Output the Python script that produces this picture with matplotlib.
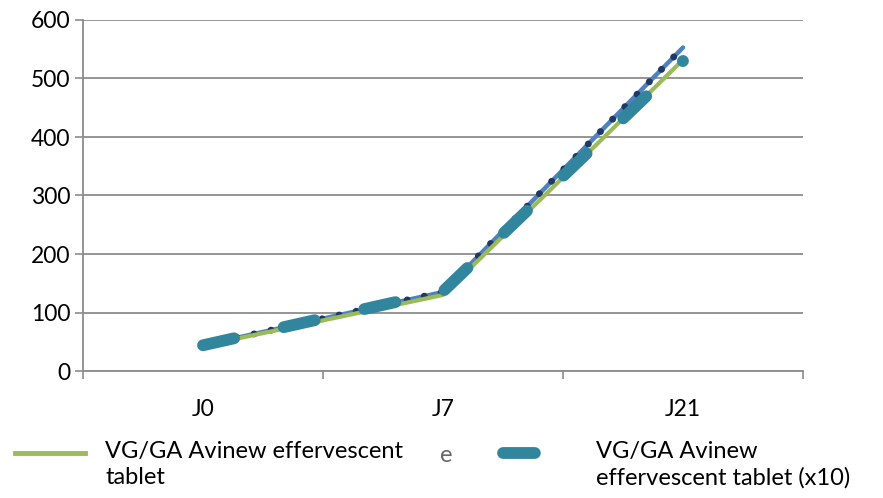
import matplotlib.pyplot as plt
from matplotlib.lines import Line2D

plt.rcParams["font.family"] = ["Lato", "DejaVu Sans"]

days = ["J0", "J7", "J21"]
tablet = [43, 130, 532]
blue_series = [44, 135, 553]
tablet_x10 = [44, 136, 530]
legend_labels = ["VG/GA Avinew effervescent\ntablet", "VG/GA Avinew\neffervescent tablet (x10)"]

green = "#9BBB59"
blue = "#4F81BD"
navy = "#1F3864"
teal = "#31859C"
grid_gray = "#8C8C8C"
teal_dash = (0, (2.7, 4.3))

fig = plt.figure(figsize=(8.83, 4.98), dpi=100)
ax = fig.add_axes([83 / 883, 1 - 371 / 498, 720 / 883, 351 / 498])

x = list(range(len(days)))
ax.plot(x, blue_series, color=blue, lw=3.2, solid_capstyle="round", zorder=2)
ax.plot(x, blue_series, color=navy, lw=5, linestyle=(0, (0.01, 2.5)),
        dash_capstyle="round", zorder=3)
ax.plot(x, tablet, color=green, lw=3.0, solid_capstyle="round", zorder=4)
ax.plot(x, tablet_x10, color=teal, lw=8.5, linestyle=teal_dash,
        dash_capstyle="round", solid_joinstyle="round", zorder=5)

ax.set_xlim(-0.5, len(days) - 0.5)
ax.set_ylim(0, 600)
ax.set_yticks(range(0, 601, 100))
ax.set_xticks(x)
ax.set_xticklabels(days)
ax.set_xticks([i - 0.5 for i in range(len(days) + 1)], minor=True)
ax.tick_params(axis="x", which="major", length=0, pad=20, labelsize=16.5)
ax.tick_params(axis="x", which="minor", length=6, width=1.2, color=grid_gray, direction="out")
ax.tick_params(axis="y", length=6, width=1.2, color=grid_gray, pad=3, labelsize=16.5)
ax.yaxis.grid(True, color=grid_gray, lw=1.3)
ax.set_axisbelow(True)
for side in ["top", "right"]:
    ax.spines[side].set_visible(False)
for side in ["left", "bottom"]:
    ax.spines[side].set_color(grid_gray)
    ax.spines[side].set_linewidth(1.3)

# legend drawn by hand, the middle entry is mostly hidden in the original
fig.add_artist(Line2D([15 / 883, 85 / 883], [1 - 453 / 498] * 2, color=green, lw=3.5))
fig.text(105 / 883, 1 - 441 / 498, legend_labels[0], fontsize=17, va="top",
         linespacing=1.3)
fig.text(440 / 883, 1 - 455 / 498, "e", fontsize=17, va="center", color="#666666")
fig.add_artist(Line2D([503 / 883, 579 / 883], [1 - 453 / 498] * 2, color=teal, lw=8.5,
                      linestyle=teal_dash, dash_capstyle="round"))
fig.text(596 / 883, 1 - 441 / 498, legend_labels[1], fontsize=17, va="top",
         linespacing=1.3)

fig.savefig("out.png", dpi=100)
